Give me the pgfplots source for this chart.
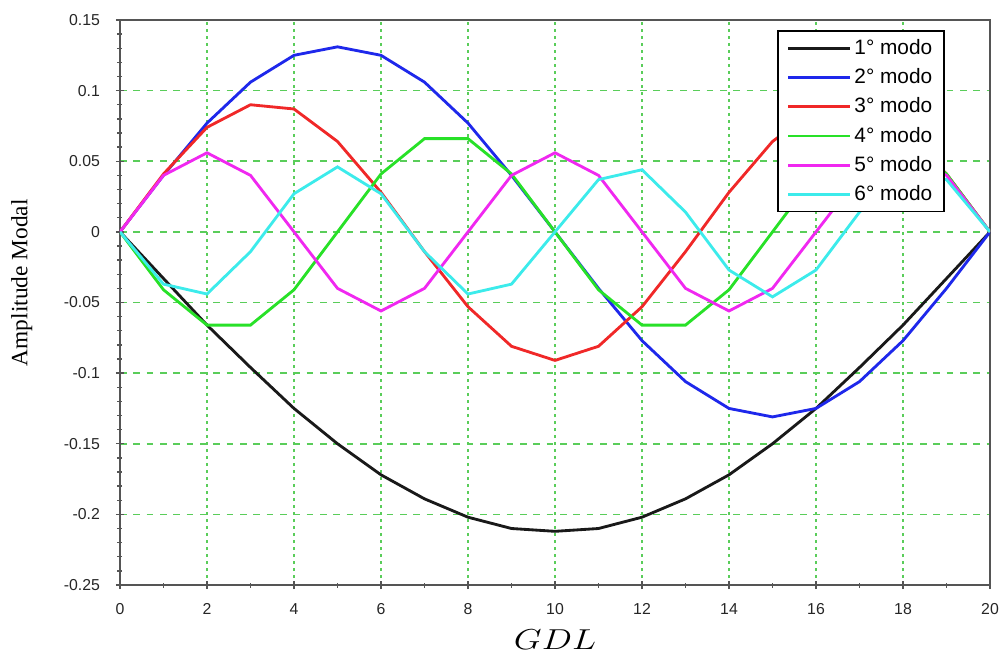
\documentclass[border=0pt]{standalone}
\usepackage{pgfplots}
\pgfplotsset{compat=1.18}
\usepackage{fontspec}
\setmainfont{Liberation Sans}
\newfontfamily\serifface{Liberation Serif}

\definecolor{gridgreen}{RGB}{90,205,90}
\definecolor{mblue}{RGB}{30,40,235}
\definecolor{mred}{RGB}{240,40,40}
\definecolor{mgreen}{RGB}{40,225,40}
\definecolor{mmag}{RGB}{240,40,240}
\definecolor{mcyan}{RGB}{60,235,235}
\definecolor{frame}{RGB}{85,85,85}

\begin{document}
\begin{tikzpicture}
\begin{axis}[
    scale only axis,
    width=522pt,
    height=339pt,
    xmin=0,xmax=20,
    ymin=-0.25,ymax=0.15,
    xtick={0,2,...,20},
    ytick={-0.25,-0.2,-0.15,-0.1,-0.05,0,0.05,0.1,0.15},
    minor x tick num=1,
    minor y tick num=4,
    tick pos=left,
    tick align=center,
    major tick length=5pt,
    minor tick length=3pt,
    tick style={frame,line width=0.8pt},
    axis line style={frame,line width=1.2pt},
    /pgf/number format/assume math mode=true,
    /pgf/number format/fixed,
    /pgf/number format/precision=2,
    tick label style={font=\fontsize{9.5}{11}\selectfont,black!85},
    yticklabel style={xshift=-6pt},
    xticklabel style={yshift=-5pt},
    grid=major,
    x grid style={gridgreen,line width=1pt,dash pattern=on 1.6pt off 2.6pt},
    y grid style={gridgreen,line width=1pt,dash pattern=on 4pt off 4pt},
    xlabel={\scalebox{1.25}[1]{$GDL$}},
    ylabel={\serifface Amplitude Modal},
    every axis x label/.style={at={(axis description cs:0.5,0)},anchor=center,yshift=-33pt,font=\fontsize{16}{18}\selectfont},
    every axis y label/.style={at={(axis description cs:-0.113,0.535)},rotate=90,anchor=center,font=\fontsize{14}{16}\selectfont},
    legend style={at={(rel axis cs:0.948,0.982)},anchor=north east,draw=black,line width=1pt,fill=white,
        font=\fontsize{12.5}{14}\selectfont,inner xsep=5pt,inner ysep=3pt,row sep=3pt,cells={anchor=west}},
    legend image code/.code={\draw[#1] (0pt,0pt) -- (37pt,0pt);},
    every axis plot/.append style={line width=1.7pt},
]
\addplot[black!90] coordinates {
(0,0)(1,-0.033)(2,-0.066)(3,-0.096)(4,-0.125)(5,-0.150)(6,-0.172)(7,-0.189)(8,-0.202)(9,-0.210)(10,-0.212)
(11,-0.210)(12,-0.202)(13,-0.189)(14,-0.172)(15,-0.150)(16,-0.125)(17,-0.096)(18,-0.066)(19,-0.033)(20,0)};
\addlegendentry{1° modo}
\addplot[mblue] coordinates {
(0,0)(1,0.040)(2,0.077)(3,0.106)(4,0.125)(5,0.131)(6,0.125)(7,0.106)(8,0.077)(9,0.040)(10,0)
(11,-0.040)(12,-0.077)(13,-0.106)(14,-0.125)(15,-0.131)(16,-0.125)(17,-0.106)(18,-0.077)(19,-0.040)(20,0)};
\addlegendentry{2° modo}
\addplot[mred] coordinates {
(0,0)(1,0.041)(2,0.074)(3,0.090)(4,0.087)(5,0.064)(6,0.028)(7,-0.014)(8,-0.053)(9,-0.081)(10,-0.091)
(11,-0.081)(12,-0.053)(13,-0.014)(14,0.028)(15,0.064)(16,0.087)(17,0.090)(18,0.074)(19,0.041)(20,0)};
\addlegendentry{3° modo}
\addplot[mgreen] coordinates {
(0,0)(1,-0.041)(2,-0.066)(3,-0.066)(4,-0.041)(5,0)(6,0.041)(7,0.066)(8,0.066)(9,0.041)(10,0)
(11,-0.041)(12,-0.066)(13,-0.066)(14,-0.041)(15,0)(16,0.041)(17,0.066)(18,0.066)(19,0.041)(20,0)};
\addlegendentry{4° modo}
\addplot[mmag] coordinates {
(0,0)(1,0.040)(2,0.056)(3,0.040)(4,0)(5,-0.040)(6,-0.056)(7,-0.040)(8,0)(9,0.040)(10,0.056)
(11,0.040)(12,0)(13,-0.040)(14,-0.056)(15,-0.040)(16,0)(17,0.040)(18,0.056)(19,0.040)(20,0)};
\addlegendentry{5° modo}
\addplot[mcyan] coordinates {
(0,0)(1,-0.037)(2,-0.044)(3,-0.014)(4,0.027)(5,0.046)(6,0.027)(7,-0.014)(8,-0.044)(9,-0.037)(10,0)
(11,0.037)(12,0.044)(13,0.014)(14,-0.027)(15,-0.046)(16,-0.027)(17,0.014)(18,0.044)(19,0.037)(20,0)};
\addlegendentry{6° modo}
\end{axis}
\pgfresetboundingbox
\path (current axis.south west) ++(-72pt,-45pt) coordinate (bl);
\path (current axis.north east) ++(9pt,12pt) coordinate (tr);
\path (bl) rectangle (tr);
\end{tikzpicture}
\end{document}
